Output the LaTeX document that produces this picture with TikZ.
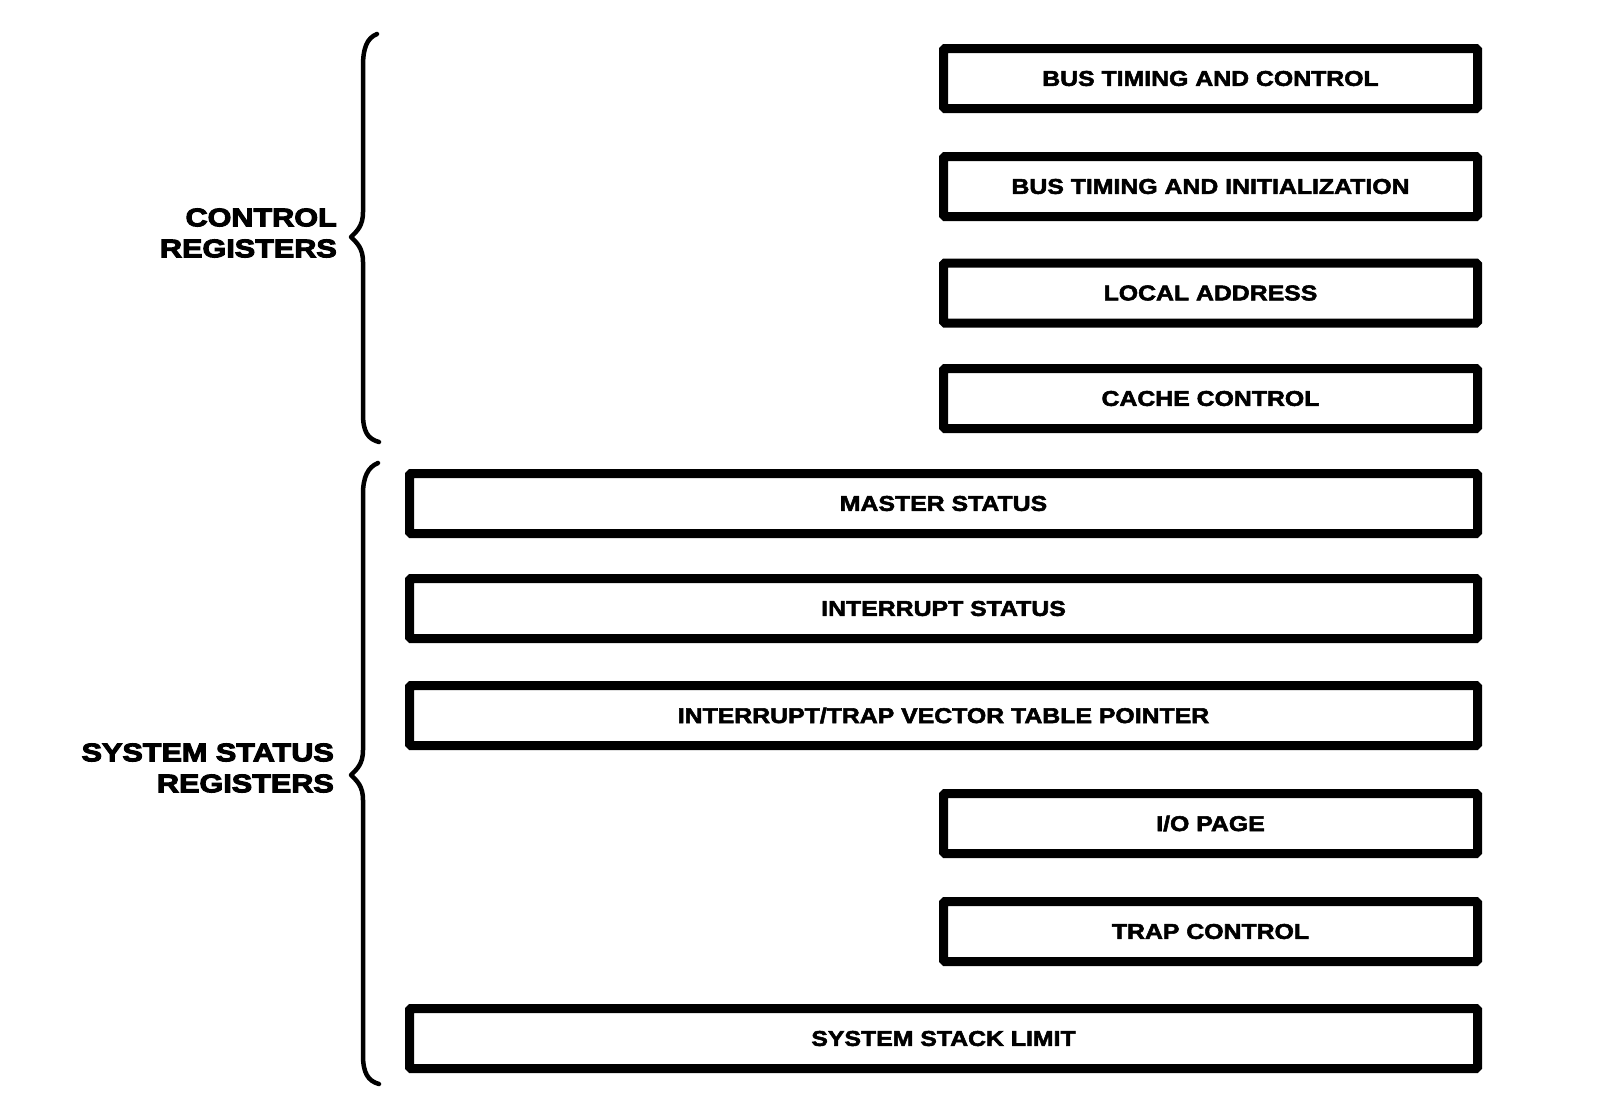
\documentclass[tikz,border=0pt]{standalone}
\usepackage{fontspec}
\setmainfont{Liberation Sans}
\newfontfamily\boxfont[FakeStretch=1.16,FakeBold=2.5]{Liberation Sans Bold}
\newfontfamily\labfont[FakeStretch=1.2,FakeBold=4]{Liberation Sans Bold}
\begin{document}
\begin{tikzpicture}[x=1pt,y=-1pt,
  regbox/.style={draw=black, line width=9pt, rounded corners=1.5pt, minimum height=60pt,
    inner sep=0pt, font=\boxfont\fontsize{21.4}{24}\selectfont},
  narrowbox/.style={regbox, minimum width=534pt},
  widebox/.style={regbox, minimum width=1068pt},
  brace/.style={draw=black, line width=4.5pt, line cap=round, line join=round},
  grouplabel/.style={anchor=east, align=right, inner sep=0pt,
    font=\labfont\fontsize{25.5}{31}\selectfont}]
\useasboundingbox[fill=white] (0,0) rectangle (1623,1117);

% control registers
\node[narrowbox] (btc) at (1210.5,78.5) {BUS TIMING AND CONTROL};
\node[narrowbox] (bti) at (1210.5,186.5) {BUS TIMING AND INITIALIZATION};
\node[narrowbox] (la)  at (1210.5,293) {LOCAL ADDRESS};
\node[narrowbox] (cc)  at (1210.5,398.5) {CACHE CONTROL};

% system status registers
\node[widebox] (ms)  at (943.5,503.5) {MASTER STATUS};
\node[widebox] (is)  at (943.5,608.5) {INTERRUPT STATUS};
\node[widebox] (itv) at (943.5,715.5) {INTERRUPT/TRAP VECTOR TABLE POINTER};
\node[narrowbox] (io) at (1210.5,823.5) {I/O PAGE};
\node[narrowbox] (tc) at (1210.5,931.5) {TRAP CONTROL};
\node[widebox] (ssl) at (943.5,1038.5) {SYSTEM STACK LIMIT};

% braces
\draw[brace] (377,34) .. controls (367,38) and (363,48) .. (363,66)
  -- (363,212) .. controls (363,226) and (357,231) .. (351,237)
  .. controls (357,243) and (363,248) .. (363,262)
  -- (363,414) .. controls (363,432) and (368,439) .. (379,442);
\draw[brace] (378,463) .. controls (368,467) and (363,477) .. (363,494)
  -- (363,750) .. controls (363,764) and (357,769) .. (351,775)
  .. controls (357,781) and (363,786) .. (363,800)
  -- (363,1055) .. controls (363,1073) and (368,1081) .. (379,1084);

% labels
\node[grouplabel] (ctl) at (337,233) {CONTROL\\REGISTERS};
\node[grouplabel] (sys) at (334,768) {SYSTEM STATUS\\REGISTERS};
\end{tikzpicture}
\end{document}
